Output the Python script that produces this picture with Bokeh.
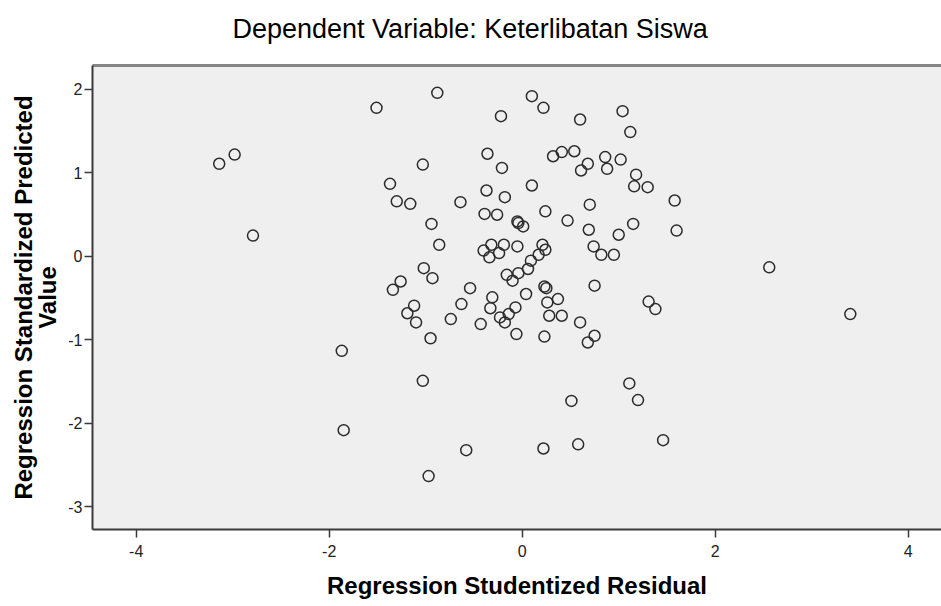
from bokeh.plotting import figure
from bokeh.models import Range1d, FixedTicker, LinearAxis, Title
from bokeh.embed import file_html
from bokeh.resources import INLINE

# Regression Studentized Residual (x) and Regression Standardized Predicted Value (y)
resid = [-3.14, -2.98, -2.79, -1.51, -0.88, 0.10, 0.22, -0.22, 0.60, 1.04, 1.12,
         -1.03, -0.36, -0.21, 0.32, 0.41, 0.54, 0.68, 0.61, 0.86, 0.88, 1.02,
         1.18, 1.16, 1.30, 1.58, 1.60, -1.37, -1.30, -1.16, 0.10, -0.37, -0.18,
         -0.64, -0.39, -0.26, 0.24, 0.70, 0.47, -0.05, -0.04, 0.01, 0.69, 1.15,
         1.00, -0.94, -0.86, -0.40, -0.32, -0.34, -0.24, -0.19, -0.05, 0.21,
         0.24, 0.17, 0.09, 0.74, 0.82, 0.95, -0.16, -0.04, 0.06, -0.10, -1.02,
         -0.93, -1.26, -1.34, -1.12, -1.19, -1.10, -0.95, -1.87, -1.03, -1.85,
         -0.54, -0.63, -0.74, -0.43, -0.31, -0.33, -0.07, -0.14, -0.23, -0.18,
         -0.06, 0.04, 0.23, 0.25, 0.26, 0.37, 0.28, 0.41, 0.23, 0.60, 0.75,
         0.75, 0.68, 1.31, 1.38, 1.11, 1.20, 0.51, 1.46, 0.58, 0.22, -0.58,
         -0.97, 2.56, 3.40]
pred = [1.11, 1.22, 0.25, 1.78, 1.96, 1.92, 1.78, 1.68, 1.64, 1.74, 1.49,
        1.10, 1.23, 1.06, 1.20, 1.25, 1.26, 1.11, 1.03, 1.19, 1.05, 1.16,
        0.98, 0.84, 0.83, 0.67, 0.31, 0.87, 0.66, 0.63, 0.85, 0.79, 0.71,
        0.65, 0.51, 0.50, 0.54, 0.62, 0.43, 0.42, 0.40, 0.36, 0.32, 0.39,
        0.26, 0.39, 0.14, 0.07, 0.14, -0.01, 0.04, 0.14, 0.12, 0.14,
        0.08, 0.02, -0.05, 0.12, 0.02, 0.02, -0.22, -0.20, -0.15, -0.29, -0.14,
        -0.26, -0.30, -0.40, -0.59, -0.68, -0.79, -0.98, -1.13, -1.49, -2.08,
        -0.38, -0.57, -0.75, -0.81, -0.49, -0.62, -0.61, -0.69, -0.73, -0.79,
        -0.93, -0.45, -0.36, -0.38, -0.55, -0.51, -0.71, -0.71, -0.96, -0.79, -0.35,
        -0.95, -1.03, -0.54, -0.63, -1.52, -1.72, -1.73, -2.20, -2.25, -2.30, -2.32,
        -2.63, -0.13, -0.69]

x_ticks = [-4, -2, 0, 2, 4]
y_ticks = [-3, -2, -1, 0, 1, 2]

title_text = "Dependent Variable: Keterlibatan Siswa"
x_label = "Regression Studentized Residual"
y_label = "Regression Standardized Predicted\nValue"

FONT = "Liberation Sans"
AX = "#3a3a3a"

p = figure(frame_width=849, frame_height=464, output_backend="svg",
           toolbar_location=None,
           x_range=Range1d(-4.453, 4.345), y_range=Range1d(-3.27, 2.287),
           min_border_left=92, min_border_right=0, min_border_top=65,
           min_border_bottom=0)

p.background_fill_color = "#efefef"
p.border_fill_color = "#ffffff"
p.outline_line_color = None
p.grid.visible = False

for ax, ticks in ((p.xaxis, x_ticks), (p.yaxis, y_ticks)):
    ax.ticker = FixedTicker(ticks=ticks)
    ax.major_label_overrides = {t: str(t) for t in ticks}
    ax.major_tick_out = 8
    ax.major_tick_in = 0
    ax.minor_tick_line_color = None
    ax.axis_line_color = AX
    ax.axis_line_width = 2
    ax.major_tick_line_color = AX
    ax.major_tick_line_width = 1.5
    ax.major_label_text_font = FONT
    ax.major_label_text_font_size = "16px"
    ax.major_label_text_color = "#222222"
    ax.axis_label_text_font = FONT
    ax.axis_label_text_font_size = "24px"
    ax.axis_label_text_font_style = "bold"
    ax.axis_label_text_color = "#000000"

p.xaxis.axis_label = x_label
p.xaxis.major_label_standoff = 7
p.xaxis.axis_label_standoff = 12
p.yaxis.axis_label = y_label
p.yaxis.major_label_standoff = 2
p.yaxis.axis_label_standoff = 4
p.yaxis.axis_label_text_line_height = 0.9

# top frame edge (grey band): an empty axis lying on the frame's top edge
top_axis = LinearAxis(ticker=FixedTicker(ticks=[]), axis_line_color="#858585",
                      axis_line_width=3, major_tick_out=0, major_tick_in=0,
                      minor_tick_out=0, minor_tick_in=0,
                      major_tick_line_color=None, minor_tick_line_color=None,
                      major_label_standoff=0)
p.add_layout(top_axis, "above")

# blank spacer between the frame and the chart title
p.add_layout(Title(text=" ", standoff=14, text_font=FONT,
                   text_font_size="1px"), "above")

p.add_layout(Title(text=title_text, align="left", offset=140, standoff=10,
                   vertical_align="bottom",
                   text_font=FONT, text_font_size="27px",
                   text_font_style="normal", text_color="#000000"), "above")

p.scatter(resid, pred, marker="circle", size=11, fill_color=None,
          line_color="#2b2b2b", line_width=1.5)

open("out.html", "w").write(file_html(p, INLINE))
